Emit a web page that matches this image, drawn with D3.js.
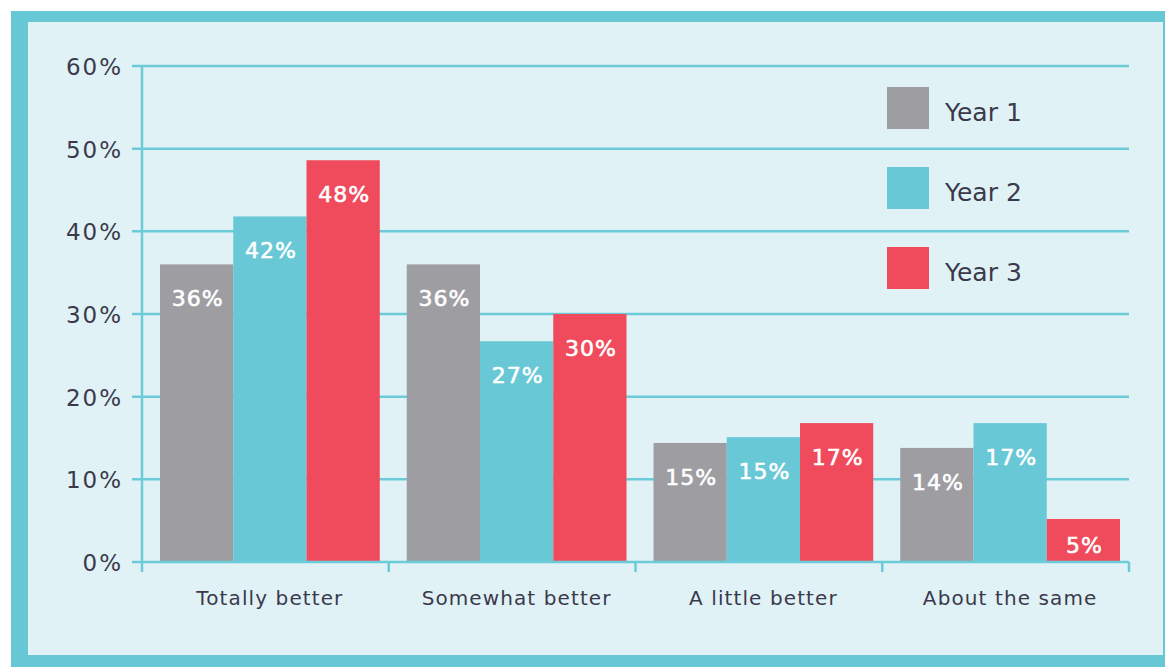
<!DOCTYPE html>
<html lang="en">
<head>
<meta charset="UTF-8">
<title>Chart</title>
<style>
    body { margin: 0; background: #fff; }
    text { font-family: "DejaVu Sans", sans-serif; }
    .tick-label { font-size: 23px; fill: #3b3a4c; letter-spacing: 2px; }
    .cat-label { font-size: 20px; fill: #3b3a4c; text-anchor: middle; letter-spacing: 1.1px; }
    .val-label { font-size: 22px; fill: #fff; stroke: #fff; stroke-width: 0.6px; text-anchor: middle; letter-spacing: 1px; }
    .legend text { font-size: 25px; fill: #3b3a4c; }
</style>
</head>
<body>
<svg width="1165" height="667"></svg>
<script src="https://cdn.jsdelivr.net/npm/d3@7/dist/d3.min.js"></script>
<script>

var categories = ["Totally better", "Somewhat better", "A little better", "About the same"];
var series = ["Year 1", "Year 2", "Year 3"];
var year1 = [36, 36, 14.4, 13.8];
var year2 = [41.8, 26.7, 15.1, 16.8];
var year3 = [48.6, 30, 16.8, 5.2];
var year1Labels = ["36%", "36%", "15%", "14%"];
var year2Labels = ["42%", "27%", "15%", "17%"];
var year3Labels = ["48%", "30%", "17%", "5%"];
var yTicks = [0, 10, 20, 30, 40, 50, 60];
var colors = ["#9e9da2", "#68c8d6", "#f04b5c"];

var values = [year1, year2, year3];
var labels = [year1Labels, year2Labels, year3Labels];

var svg = d3.select("svg");

// frame
svg.append("rect").attr("x", 11).attr("y", 11).attr("width", 1154).attr("height", 656).attr("fill", "#67c8d5");
svg.append("rect").attr("x", 28).attr("y", 22).attr("width", 1135).attr("height", 633).attr("fill", "#e0f2f6");

var plotLeft = 142, plotRight = 1129, plotTop = 66, plotBottom = 562;
var gridColor = "#6ccbd8";

var x = d3.scaleBand().domain(categories).range([plotLeft, plotRight]);
var xSub = d3.scaleBand().domain(series).range([18, x.bandwidth() - 9]);
var y = d3.scaleLinear().domain([0, 60]).range([plotBottom, plotTop]);

// gridlines
svg.append("g").selectAll("line")
    .data(yTicks.filter(function(d) { return d > 0; }))
    .enter().append("line")
    .attr("x1", plotLeft - 10).attr("x2", plotRight)
    .attr("y1", function(d) { return y(d); }).attr("y2", function(d) { return y(d); })
    .attr("stroke", gridColor).attr("stroke-width", 2.5);

// y tick labels
svg.append("g").selectAll("text")
    .data(yTicks)
    .enter().append("text")
    .attr("class", "tick-label")
    .attr("x", 123).attr("y", function(d) { return y(d) + 9; })
    .attr("text-anchor", "end")
    .text(function(d) { return d + "%"; });

// bars
var groups = svg.append("g").selectAll("g")
    .data(categories)
    .enter().append("g")
    .attr("transform", function(d) { return "translate(" + x(d) + ",0)"; });

series.forEach(function(s, si) {
    groups.append("rect")
        .attr("x", xSub(s))
        .attr("width", xSub.bandwidth())
        .attr("y", function(d, i) { return y(values[si][i]); })
        .attr("height", function(d, i) { return plotBottom - y(values[si][i]); })
        .attr("fill", colors[si]);

    groups.append("text")
        .attr("class", "val-label")
        .attr("x", xSub(s) + xSub.bandwidth() / 2 + 1)
        .attr("y", function(d, i) { return Math.min(y(values[si][i]) + 34, plotBottom - 17) + 8; })
        .text(function(d, i) { return labels[si][i]; });
});

// baseline + y axis line
svg.append("line")
    .attr("x1", plotLeft - 10).attr("x2", plotRight)
    .attr("y1", plotBottom).attr("y2", plotBottom)
    .attr("stroke", gridColor).attr("stroke-width", 2.5);
svg.append("line")
    .attr("x1", plotLeft).attr("x2", plotLeft)
    .attr("y1", plotTop).attr("y2", plotBottom + 10)
    .attr("stroke", gridColor).attr("stroke-width", 2.5);

// category ticks
svg.append("g").selectAll("line")
    .data(categories.slice(1).concat([null]))
    .enter().append("line")
    .attr("x1", function(d) { return d ? x(d) : plotRight; })
    .attr("x2", function(d) { return d ? x(d) : plotRight; })
    .attr("y1", plotBottom).attr("y2", plotBottom + 10)
    .attr("stroke", gridColor).attr("stroke-width", 2.5);

// category labels
groups.append("text")
    .attr("class", "cat-label")
    .attr("x", 18 + (x.bandwidth() - 27) / 2)
    .attr("y", 605)
    .text(function(d) { return d; });

// legend
var legend = svg.append("g").attr("class", "legend")
    .selectAll("g")
    .data(series)
    .enter().append("g")
    .attr("transform", function(d, i) { return "translate(887," + (87 + i * 80) + ")"; });

legend.append("rect")
    .attr("width", 42).attr("height", 42)
    .attr("fill", function(d, i) { return colors[i]; });

legend.append("text")
    .attr("x", 58).attr("y", 34)
    .text(function(d) { return d; });

</script>
</body>
</html>
